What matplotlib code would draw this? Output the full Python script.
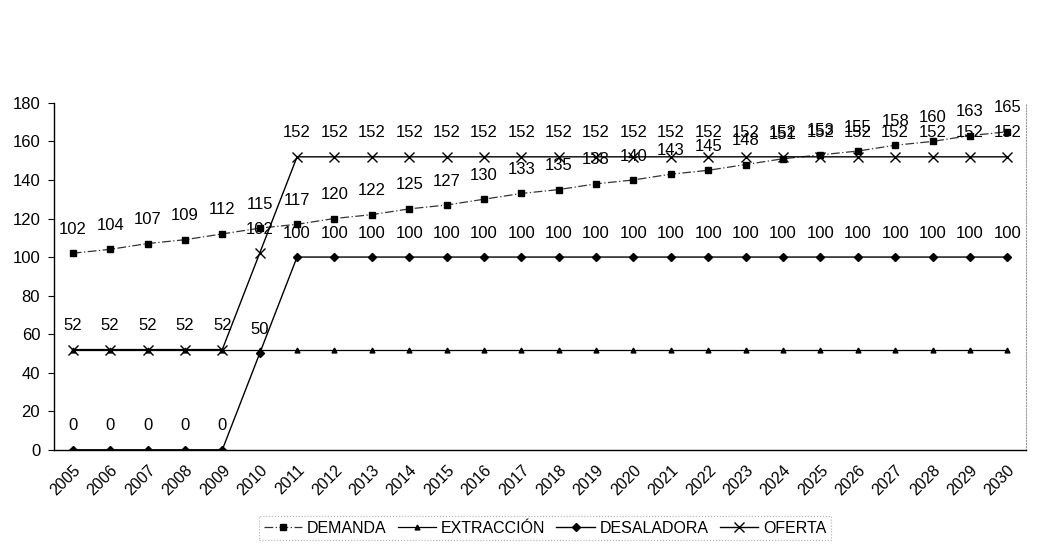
import matplotlib.pyplot as plt

plt.rcParams['font.family'] = ['Liberation Sans', 'DejaVu Sans']

# Datos
years = [str(y) for y in range(2005, 2031)]
demanda = [102, 104, 107, 109, 112, 115, 117, 120, 122, 125, 127, 130, 133,
           135, 138, 140, 143, 145, 148, 151, 153, 155, 158, 160, 163, 165]
extraccion = [52] * 26
desaladora = [0, 0, 0, 0, 0, 50] + [100] * 20
oferta = [52, 52, 52, 52, 52, 102] + [152] * 20

x = list(range(len(years)))

fig = plt.figure(figsize=(10.4, 5.56), dpi=100)
ax = fig.add_axes([0.052, 0.191, 0.9345, 0.624])

ax.plot(x, demanda, color='#333333', linewidth=0.9, linestyle=(0, (7, 2, 1, 2)),
        marker='s', markersize=4.5, markerfacecolor='black', markeredgecolor='black',
        label='DEMANDA')
ax.plot(x, extraccion, color='black', linewidth=0.9,
        marker='^', markersize=3.5, label='EXTRACCIÓN')
ax.plot(x, desaladora, color='black', linewidth=1.0,
        marker='D', markersize=4.5, label='DESALADORA')
ax.plot(x, oferta, color='black', linewidth=1.0,
        marker='x', markersize=6.5, markeredgewidth=1.0, label='OFERTA')

# Etiquetas de datos
for serie in (demanda, desaladora, oferta):
    for xi, v in zip(x, serie):
        ax.annotate(str(v), (xi, v), xytext=(0, 14), textcoords='offset points',
                    ha='center', va='baseline', fontsize=12, color='black')

ax.set_xlim(-0.5, len(years) - 0.5)
ax.set_ylim(0, 180)
ax.set_yticks(range(0, 181, 20))
ax.tick_params(axis='y', labelsize=12, length=4, pad=6, direction='out')
ax.set_xticks(x)
ax.set_xticklabels(years, rotation=45, ha='right', va='top',
                   rotation_mode='anchor', fontsize=11.5)
ax.tick_params(axis='x', length=0, pad=9)

ax.spines['top'].set_visible(False)
ax.spines['right'].set_linestyle(':')
ax.spines['right'].set_color('#999999')
ax.spines['left'].set_linewidth(1.0)
ax.spines['bottom'].set_linewidth(1.0)

leg = fig.legend(loc='center', bbox_to_anchor=(0.524, 0.05), ncol=4,
                 fontsize=11.5, frameon=True, fancybox=False,
                 handlelength=2.4, handletextpad=0.3, columnspacing=0.7,
                 borderpad=0.3)
leg.get_frame().set_edgecolor('#999999')
leg.get_frame().set_linestyle(':')
leg.get_frame().set_linewidth(0.8)

fig.savefig('out.png', dpi=100)
